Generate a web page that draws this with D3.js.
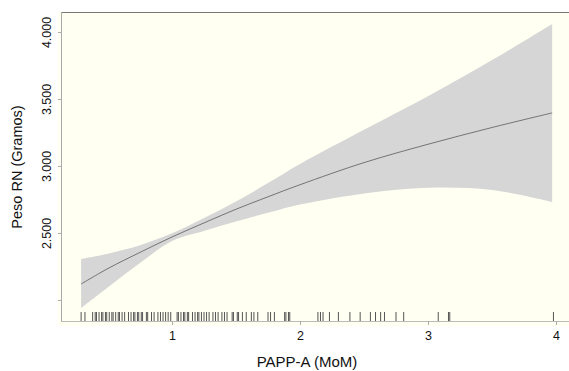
<!DOCTYPE html>
<html>
<head>
<meta charset="utf-8">
<script src="https://cdn.jsdelivr.net/npm/d3@7"></script>
<style>
  html, body { margin: 0; padding: 0; background: #ffffff; }
  svg { display: block; font-family: "Liberation Sans", Arial, sans-serif; }
</style>
</head>
<body>
<svg id="chart" width="569" height="371"></svg>
<script>
// ---- data ----
const fitX   = [0.29, 0.5, 0.75, 1.0, 1.25, 1.5, 1.75, 2.0, 2.5, 3.0, 3.5, 3.97];
const fitY   = [2119, 2235, 2355, 2470, 2575, 2677, 2770, 2860, 3025, 3162, 3287, 3396];
const lowerY = [1940, 2095, 2275, 2440, 2515, 2585, 2650, 2712, 2795, 2838, 2821, 2731];
const upperY = [2306, 2345, 2408, 2497, 2612, 2735, 2872, 3015, 3270, 3520, 3790, 4060];
const rugX = [0.29,0.32,0.38,0.40,0.41,0.43,0.45,0.46,0.48,0.49,0.51,0.53,0.54,0.56,0.58,0.59,0.61,0.63,
  0.66,0.68,0.70,0.71,0.73,0.74,0.76,0.77,0.80,0.81,0.84,0.86,0.89,0.91,0.93,0.95,0.97,0.99,
  1.04,1.05,1.07,1.09,1.10,1.12,1.13,1.16,1.18,1.20,1.21,1.23,1.25,1.27,1.29,1.32,1.34,1.36,1.39,1.41,1.43,
  1.47,1.48,1.51,1.52,1.55,1.58,1.62,1.64,1.67,1.75,1.77,1.80,1.88,1.89,1.91,1.92,
  2.14,2.16,2.18,2.23,2.30,2.39,2.47,2.55,2.59,2.63,2.66,2.75,2.81,3.08,3.16,3.17,3.98];
const xTicks = [1, 2, 3, 4];
const xTickLabels = ["1", "2", "3", "4"];
const yTicks = [2000, 2500, 3000, 3500, 4000];
const yTickLabels = ["", "2.500", "3.000", "3.500", "4.000"];
const xTitle = "PAPP-A (MoM)";
const yTitle = "Peso RN (Gramos)";

// ---- layout ----
const svg = d3.select("#chart");
const L = 61, R = 569, T = 12, B = 321;
const x = d3.scaleLinear().domain([(L - 44) / 128, (R - 44) / 128]).range([L, R]);
const y = d3.scaleLinear().domain([1843, 4149]).range([B, T]);
const curve = d3.curveCatmullRom.alpha(0.5);

// panel background
svg.append("rect").attr("x", L - 3).attr("y", T).attr("width", R - L + 3).attr("height", B - T + 5)
  .attr("fill", "#fffff2");

// confidence band
const band = fitX.map((d, i) => ({x: d, lo: lowerY[i], hi: upperY[i], f: fitY[i]}));
svg.append("path").datum(band)
  .attr("fill", "#d6d6d6")
  .attr("d", d3.area().x(d => x(d.x)).y0(d => y(d.lo)).y1(d => y(d.hi)).curve(curve));

// fit line
svg.append("path").datum(band)
  .attr("fill", "none").attr("stroke", "#5a5a5a").attr("stroke-width", 0.8)
  .attr("d", d3.line().x(d => x(d.x)).y(d => y(d.f)).curve(curve));

// rug
svg.append("g").selectAll("line").data(rugX).join("line")
  .attr("x1", d => x(d)).attr("x2", d => x(d))
  .attr("y1", B - 9).attr("y2", B)
  .attr("stroke", "#555").attr("stroke-width", 1);

// frame lines
svg.append("line").attr("x1", L).attr("x2", R).attr("y1", T + 0.5).attr("y2", T + 0.5)
  .attr("stroke", "#777").attr("stroke-width", 1);
svg.append("line").attr("x1", L + 0.5).attr("x2", L + 0.5).attr("y1", T).attr("y2", B)
  .attr("stroke", "#aaa").attr("stroke-width", 1);
svg.append("line").attr("x1", L).attr("x2", R).attr("y1", B + 0.5).attr("y2", B + 0.5)
  .attr("stroke", "#bbb").attr("stroke-width", 1);

// x axis
const xAxis = d3.axisBottom(x).tickValues(xTicks).tickSize(4).tickPadding(6)
  .tickFormat((d, i) => xTickLabels[i]);
const gx = svg.append("g").attr("transform", `translate(0,${B})`).call(xAxis);
gx.select(".domain").remove();
gx.selectAll(".tick line").attr("stroke", "#aaa");
gx.selectAll(".tick text").attr("font-size", 12.5).attr("fill", "#111")
  .attr("font-family", "Liberation Sans, Arial, sans-serif");

// y axis
const yAxis = d3.axisLeft(y).tickValues(yTicks).tickSize(3).tickPadding(0)
  .tickFormat((d, i) => yTickLabels[i]);
const gy = svg.append("g").attr("transform", `translate(${L},0)`).call(yAxis);
gy.select(".domain").remove();
gy.selectAll(".tick line").attr("stroke", "#aaa");
gy.selectAll(".tick text")
  .attr("font-size", 12.5).attr("fill", "#111")
  .attr("font-family", "Liberation Sans, Arial, sans-serif")
  .attr("text-anchor", "middle").attr("x", null)
  .attr("transform", "translate(-10,0) rotate(-90)")
  .attr("y", 0).attr("dy", "0");

// titles
svg.append("text").attr("x", 307).attr("y", 367).attr("text-anchor", "middle")
  .attr("font-size", 15).attr("fill", "#111").text(xTitle);
svg.append("text").attr("transform", "translate(22,167) rotate(-90)").attr("text-anchor", "middle")
  .attr("font-size", 14.5).attr("fill", "#111").text(yTitle);
</script>
</body>
</html>
